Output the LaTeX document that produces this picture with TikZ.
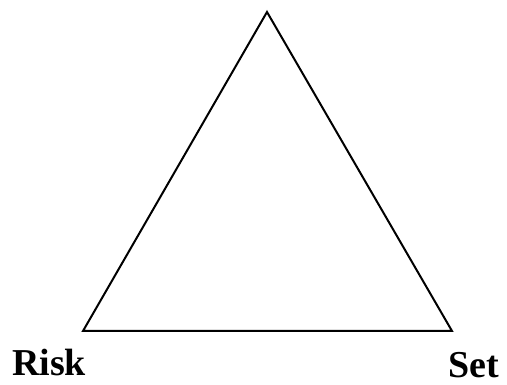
\documentclass[tikz,border=0pt]{standalone}
\usepackage{fontspec}
\setmainfont{Liberation Serif}
\begin{document}
\begin{tikzpicture}[x=1pt,y=1pt,
  edge/.style={line width=2pt, line join=miter},
  lbl/.style={anchor=base west, inner sep=0pt, font=\fontsize{38}{44}\selectfont\bfseries}]
\useasboundingbox (0,0) rectangle (507,385);
\coordinate (top) at (267,373);
\coordinate (bl) at (83,54);
\coordinate (br) at (452,54);
\draw[edge] (top) -- (bl) -- (br) -- cycle;
\node[lbl] (risk) at (12,9) {Risk};
\node[lbl] (set) at (448,7) {Set};
\end{tikzpicture}
\end{document}
